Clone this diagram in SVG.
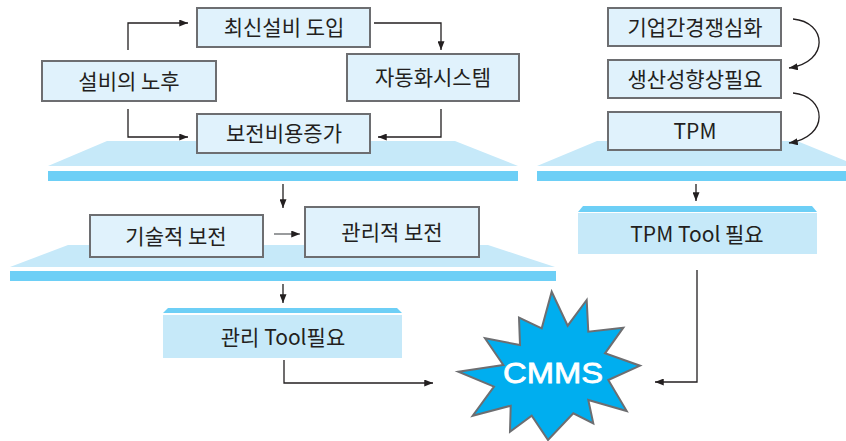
<svg xmlns="http://www.w3.org/2000/svg" width="846" height="441" viewBox="0 0 846 441">
<defs>
<style>
.box{fill:#e0f2fc;stroke:#6d6e71;stroke-width:2}
.plat{fill:#c6e9f9}
.bar{fill:#6dcff6}
.tool{fill:#c6e9f9}
.t{font-family:"Noto Sans CJK KR","Noto Sans",sans-serif;font-size:21px;fill:#231f20;text-anchor:middle}
.c{fill:none;stroke:#231f20;stroke-width:1.3}
.g{fill:none;stroke:#808285;stroke-width:1.6}
</style>
<marker id="ah" viewBox="0 0 10 8" refX="10" refY="4" markerWidth="9" markerHeight="7" markerUnits="userSpaceOnUse" orient="auto">
<path d="M0,0 L10,4 L0,8 Z" fill="#231f20"/>
</marker>
</defs>

<g id="platforms">
<polygon class="plat" points="48,166 107,141 455,141 518,166"/>
<rect class="bar" x="48" y="171" width="470" height="10"/>
<polygon class="plat" points="537,166 597,141 797,141 858,166"/>
<rect class="bar" x="537" y="171" width="309" height="10"/>
<polygon class="plat" points="10,267 68,245 488,245 555,267"/>
<rect class="bar" x="10" y="271" width="546" height="10"/>
</g>

<g id="connectors">
<path class="c" d="M128,50 V23 H188" marker-end="url(#ah)"/>
<path class="c" d="M374,23 H441 V50" marker-end="url(#ah)"/>
<path class="c" d="M128,109 V137 H188" marker-end="url(#ah)"/>
<path class="c" d="M441,109 V137 H378" marker-end="url(#ah)"/>
<path class="c" d="M793,19 C827,22 830,62 789,68" marker-end="url(#ah)"/>
<path class="c" d="M793,93 C827,96 830,137 789,143" marker-end="url(#ah)"/>
<path class="c" d="M283,184 V208" marker-end="url(#ah)"/>
<path class="g" d="M274,234 H300" marker-end="url(#ah)"/>
<path class="c" d="M283,284 V303" marker-end="url(#ah)"/>
<path class="c" d="M696,184 V201" marker-end="url(#ah)"/>
<path class="c" d="M284,360 V383 H433" marker-end="url(#ah)"/>
<path class="c" d="M697,270 V382 H655" marker-end="url(#ah)"/>
</g>

<g id="n1"><rect class="box" x="197" y="8" width="173" height="39"/><text class="t" x="284" y="35">최신설비 도입</text></g>
<g id="n2"><rect class="box" x="42" y="61" width="174" height="40"/><text class="t" x="129" y="88.5">설비의 노후</text></g>
<g id="n3"><rect class="box" x="347" y="54" width="172" height="47"/><text class="t" x="433" y="85">자동화시스템</text></g>
<g id="n4"><rect class="box" x="197" y="114" width="173" height="39"/><text class="t" x="284" y="141">보전비용증가</text></g>

<g id="n5"><rect class="box" x="608" y="8" width="173" height="38"/><text class="t" x="695" y="34.5">기업간경쟁심화</text></g>
<g id="n6"><rect class="box" x="608" y="60" width="173" height="38"/><text class="t" x="695" y="86.5">생산성향상필요</text></g>
<g id="n7"><rect class="box" x="608" y="112" width="173" height="38"/><text class="t" x="695" y="138.5">TPM</text></g>

<g id="n8"><rect class="box" x="90" y="215" width="173" height="42"/><text class="t" x="176" y="243.5">기술적 보전</text></g>
<g id="n9"><rect class="box" x="305" y="207" width="174" height="50"/><text class="t" x="392" y="239.5">관리적 보전</text></g>

<g id="n10">
<polygon class="bar" points="163,313 168,308 397,308 402,313"/>
<rect class="tool" x="163" y="315" width="239" height="43"/>
<text class="t" x="283" y="344.5">관리 Tool필요</text>
</g>
<g id="n11">
<polygon class="bar" points="578,212 583,206 812,206 817,212"/>
<rect class="tool" x="578" y="213" width="239" height="41"/>
<text class="t" x="697" y="241.5">TPM Tool 필요</text>
</g>

<g id="n12">
<polygon fill="#00aeef" stroke="#6d6e71" stroke-width="2" stroke-linejoin="miter" points="551.7,291.7 567.7,325.7 586.7,300 588.3,331.7 623.3,327.7 605,353.3 640,365.7 608.3,380 626.7,411 588.3,400 593.3,423.3 573.3,413.3 548,440 531.7,415.7 510,431.7 510.7,405.7 472.7,415.7 494,386.7 458.3,371.7 503.3,365 485,338.3 520,345 519,317.7 541.7,328.3"/>
<text x="553" y="383" font-family="'Liberation Sans',Arial,sans-serif" font-size="30" fill="#ffffff" stroke="#ffffff" stroke-width="0.8" text-anchor="middle" textLength="100" lengthAdjust="spacingAndGlyphs">CMMS</text>
</g>
</svg>
